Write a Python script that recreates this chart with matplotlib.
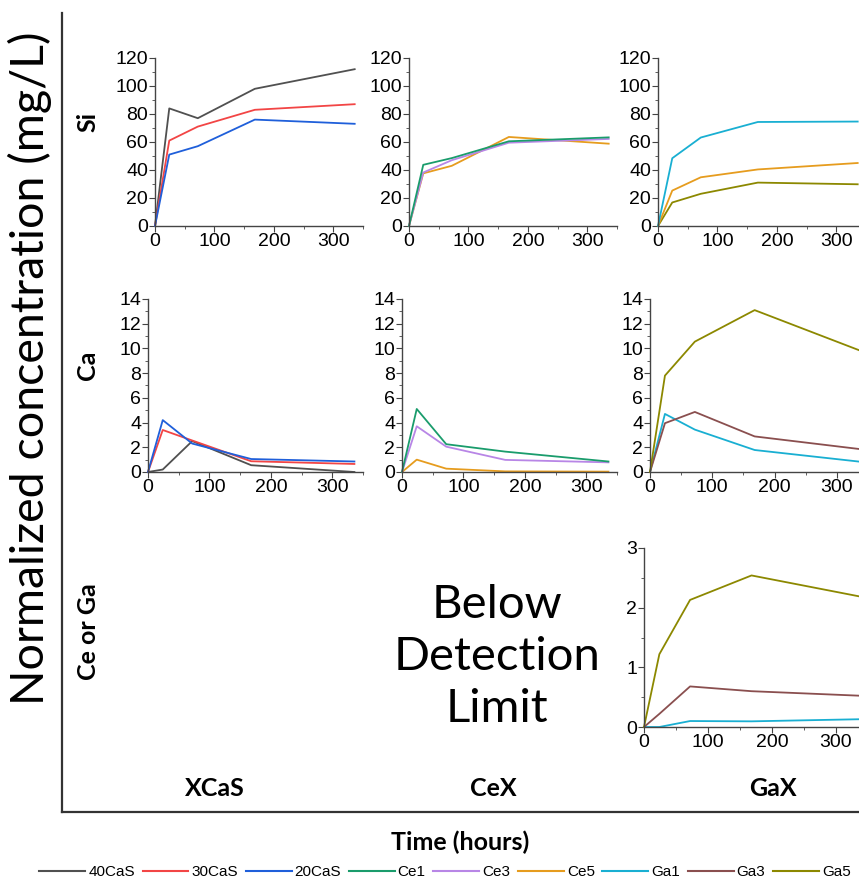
import numpy as np
import matplotlib
matplotlib.use("Agg")
import matplotlib.pyplot as plt
from matplotlib.lines import Line2D
from matplotlib.ticker import AutoMinorLocator, MultipleLocator

plt.rcParams["font.family"] = ["Liberation Sans", "DejaVu Sans"]

# sampling times (hours)
hours = [0, 24, 72, 168, 336]

# Si release
si_40cas = [0, 84, 77, 98, 112]
si_30cas = [0, 61, 71, 83, 87]
si_20cas = [0, 51, 57, 76, 73]
si_ce1 = [0, 43.7, 48.5, 60.5, 63.3]
si_ce3 = [0, 38.2, 47.0, 59.5, 62.2]
si_ce5 = [0, 37.6, 43.0, 63.6, 58.8]
si_ga1 = [0, 48.4, 63.2, 74.3, 74.6]
si_ga3 = [0, 25.3, 34.8, 40.4, 45.0]
si_ga5 = [0, 16.8, 23.0, 31.0, 29.8]

# Ca release
ca_40cas = [0, 0.2, 2.5, 0.55, 0.0]
ca_30cas = [0, 3.4, 2.55, 0.87, 0.65]
ca_20cas = [0, 4.2, 2.3, 1.05, 0.85]
ca_ce1 = [0, 5.1, 2.25, 1.65, 0.85]
ca_ce3 = [0, 3.7, 2.05, 0.98, 0.78]
ca_ce5 = [0, 1.0, 0.27, 0.05, 0.03]
ca_ga1 = [0, 4.7, 3.43, 1.78, 0.84]
ca_ga3 = [0, 3.95, 4.86, 2.88, 1.86]
ca_ga5 = [0, 7.8, 10.55, 13.1, 9.85]

# Ga release (Ce was below detection limit)
ga_ga1 = [0, 0.0, 0.10, 0.095, 0.13]
ga_ga3 = [0, 0.22, 0.68, 0.60, 0.525]
ga_ga5 = [0, 1.22, 2.13, 2.54, 2.19]

labels = ["40CaS", "30CaS", "20CaS", "Ce1", "Ce3", "Ce5", "Ga1", "Ga3", "Ga5"]
colors = {
    "40CaS": "#505050", "30CaS": "#F24545", "20CaS": "#1F5FDA",
    "Ce1": "#1A9C6C", "Ce3": "#B886E6", "Ce5": "#E69C1E",
    "Ga1": "#19AFD2", "Ga3": "#8A4F4F", "Ga5": "#8C8800",
}

W, H = 859, 885
fig = plt.figure(figsize=(W / 100, H / 100), dpi=100)


def add_panel(x0, x1, ytop, ybot, ymax, ystep, series):
    ax = fig.add_axes([x0 / W, 1 - ybot / H, (x1 - x0) / W, (ybot - ytop) / H])
    for vals, name, col in series:
        ax.plot(hours, vals, color=col or colors[name], lw=1.3, clip_on=False)
    ax.set_xlim(0, 350)
    ax.set_ylim(0, ymax)
    ax.xaxis.set_major_locator(MultipleLocator(100))
    ax.xaxis.set_minor_locator(MultipleLocator(50))
    ax.yaxis.set_major_locator(MultipleLocator(ystep))
    ax.yaxis.set_minor_locator(AutoMinorLocator(2))
    for s in ["top", "right"]:
        ax.spines[s].set_visible(False)
    for s in ["left", "bottom"]:
        ax.spines[s].set_color("#444444")
        ax.spines[s].set_linewidth(1.0)
    ax.tick_params(which="both", direction="out", color="#444444", labelsize=14, pad=1)
    ax.tick_params(which="major", length=4)
    ax.tick_params(which="minor", length=2.5)
    ax.patch.set_alpha(0)
    return ax


# Si row
add_panel(155, 363, 58, 226, 120, 20,
          [(si_40cas, "40CaS", None), (si_30cas, "30CaS", None), (si_20cas, "20CaS", None)])
add_panel(409, 617, 58, 226, 120, 20,
          [(si_ce5, "Ce5", None), (si_ce3, "Ce3", None), (si_ce1, "Ce1", None)])
add_panel(658, 866, 58, 226, 120, 20,
          [(si_ga5, "Ga5", None), (si_ga3, "Ga3", colors["Ce5"]), (si_ga1, "Ga1", None)])

# Ca row
add_panel(148, 363, 299, 472, 14, 2,
          [(ca_40cas, "40CaS", None), (ca_30cas, "30CaS", None), (ca_20cas, "20CaS", None)])
add_panel(402, 617, 299, 472, 14, 2,
          [(ca_ce5, "Ce5", None), (ca_ce3, "Ce3", None), (ca_ce1, "Ce1", None)])
add_panel(650, 868, 299, 472, 14, 2,
          [(ca_ga1, "Ga1", None), (ca_ga3, "Ga3", None), (ca_ga5, "Ga5", None)])

# Ce / Ga row
add_panel(644, 868, 548, 727, 3, 1,
          [(ga_ga1, "Ga1", None), (ga_ga3, "Ga3", None), (ga_ga5, "Ga5", None)])

# outer frame
frame_kw = dict(color="#333333", lw=1.6, transform=fig.transFigure)
fig.add_artist(Line2D([62 / W, 62 / W], [1 - 13 / H, 1 - 812 / H], **frame_kw))
fig.add_artist(Line2D([62 / W, 1.0], [1 - 812 / H, 1 - 812 / H], **frame_kw))

calibri = ["Lato", "DejaVu Sans"]
fig.text(30 / W, 1 - 368 / H, "Normalized concentration (mg/L)", rotation=90,
         ha="center", va="center", fontsize=33.5, family=calibri)
for y, lab in [(122, "Si"), (365, "Ca"), (632, "Ce or Ga")]:
    fig.text(88 / W, 1 - y / H, lab, rotation=90, ha="center", va="center",
             fontsize=18, fontweight="bold", family=calibri)
for x, lab in [(215, "XCaS"), (493, "CeX"), (773, "GaX")]:
    fig.text(x / W, 1 - 788 / H, lab, ha="center", va="center",
             fontsize=18, fontweight="bold", family=calibri)
fig.text(460 / W, 1 - 842 / H, "Time (hours)", ha="center", va="center",
         fontsize=18, fontweight="bold", family=calibri)
fig.text(497 / W, 1 - 657 / H, "Below\nDetection\nLimit", ha="center", va="center",
         fontsize=34, family=calibri, linespacing=1.3)

handles = [Line2D([], [], color=colors[n], lw=1.5) for n in labels]
fig.legend(handles, labels, loc="center", bbox_to_anchor=(445 / W, 1 - 872 / H),
           ncol=9, frameon=False, fontsize=11, handlelength=3.0,
           handletextpad=0.2, columnspacing=0.5, borderaxespad=0)

fig.savefig("out.png", dpi=100)
